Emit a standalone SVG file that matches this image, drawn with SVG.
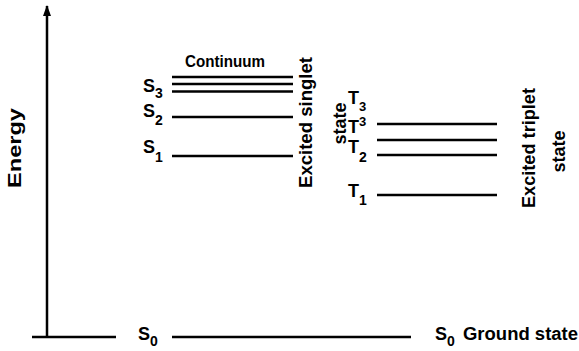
<svg xmlns="http://www.w3.org/2000/svg" width="579" height="351" viewBox="0 0 579 351">
<style>
text{font-family:"Liberation Sans",Arial,sans-serif;font-weight:bold;fill:#000}
.lbl{font-size:18px}
.sub{font-size:14px}
.t{font-size:18px}
.lv{stroke:#000;stroke-width:2.5}
</style>
<defs>
<marker id="ah" markerWidth="8" markerHeight="11" refX="4" refY="1" orient="0" markerUnits="userSpaceOnUse">
<path d="M0,11 L4,0 L8,11 Z" fill="#000"/>
</marker>
</defs>
<g id="connectors">
<line x1="47" y1="337" x2="47" y2="6" stroke="#000" stroke-width="2.5" marker-end="url(#ah)"/>
<line x1="32" y1="337" x2="116" y2="337" class="lv"/>
</g>
<g id="energy-label">
<text transform="translate(21,148) rotate(-90)" text-anchor="middle" style="font-size:19px" textLength="80" lengthAdjust="spacingAndGlyphs">Energy</text>
</g>
<g id="S0">
<text x="138" y="340" class="lbl">S<tspan class="sub" dy="6">0</tspan></text>
<line x1="172" y1="337" x2="411" y2="337" class="lv"/>
</g>
<g id="ground">
<text x="435" y="340" class="lbl">S<tspan class="sub" dy="6">0</tspan></text>
<text x="463" y="340" class="t" textLength="115" lengthAdjust="spacingAndGlyphs">Ground state</text>
</g>
<g id="continuum">
<text x="185" y="67" style="font-size:17px" textLength="80" lengthAdjust="spacingAndGlyphs">Continuum</text>
</g>
<g id="S3">
<text x="143" y="92" class="lbl">S<tspan class="sub" dy="6">3</tspan></text>
<line x1="172" y1="77" x2="293" y2="77" class="lv"/>
<line x1="172" y1="84" x2="293" y2="84" class="lv"/>
<line x1="172" y1="91.5" x2="293" y2="91.5" class="lv"/>
</g>
<g id="S2">
<text x="143" y="117" class="lbl">S<tspan class="sub" dy="8">2</tspan></text>
<line x1="172" y1="117" x2="293" y2="117" class="lv"/>
</g>
<g id="S1">
<text x="143" y="153" class="lbl">S<tspan class="sub" dy="9">1</tspan></text>
<line x1="172" y1="156" x2="293" y2="156" class="lv"/>
</g>
<g id="singlet-label">
<text transform="translate(312,122.5) rotate(-90)" text-anchor="middle" class="t" textLength="131" lengthAdjust="spacingAndGlyphs">Excited singlet</text>
<text transform="translate(346,123.5) rotate(-90)" text-anchor="middle" class="t">state</text>
</g>
<g id="T3a">
<text x="348" y="104" class="lbl">T<tspan style="font-size:13px" dy="7">3</tspan></text>
</g>
<g id="T3b">
<text x="348" y="133" class="lbl">T<tspan style="font-size:13px" dy="-7">3</tspan></text>
<line x1="377" y1="124" x2="497" y2="124" class="lv"/>
<line x1="377" y1="140" x2="497" y2="140" class="lv"/>
</g>
<g id="T2">
<text x="348" y="153" class="lbl">T<tspan class="sub" dy="9">2</tspan></text>
<line x1="377" y1="155" x2="497" y2="155" class="lv"/>
</g>
<g id="T1">
<text x="348" y="197" class="lbl">T<tspan class="sub" dy="8">1</tspan></text>
<line x1="377" y1="195" x2="497" y2="195" class="lv"/>
</g>
<g id="triplet-label">
<text transform="translate(535,148) rotate(-90)" text-anchor="middle" class="t" textLength="120" lengthAdjust="spacingAndGlyphs">Excited triplet</text>
<text transform="translate(565,151.5) rotate(-90)" text-anchor="middle" class="t">state</text>
</g>
</svg>
